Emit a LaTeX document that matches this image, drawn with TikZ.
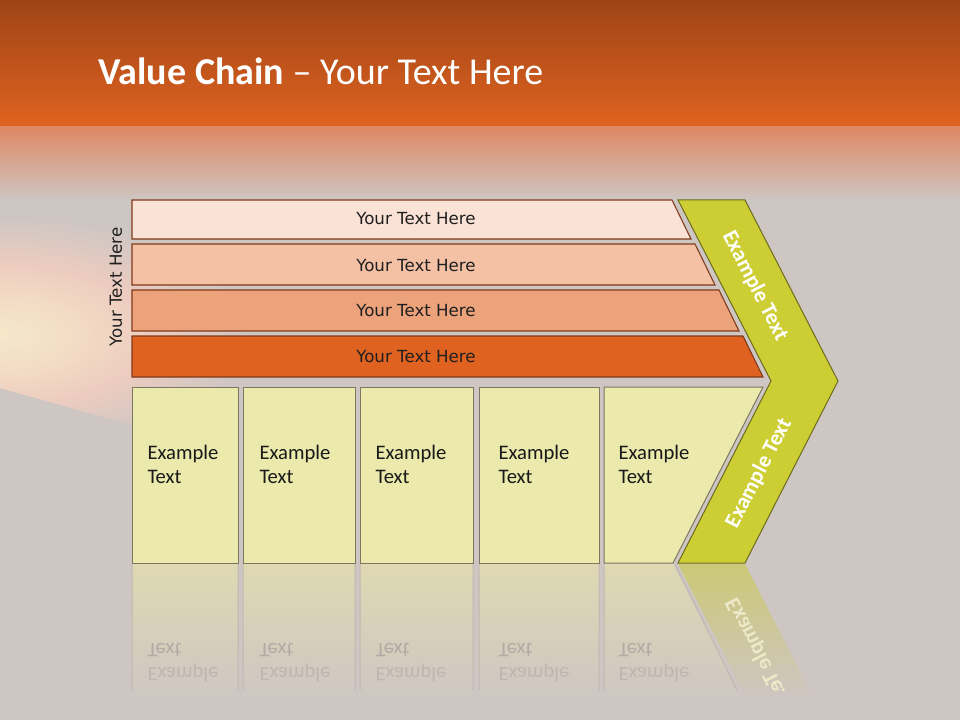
\documentclass[tikz,border=0pt]{standalone}
\usepackage{fontspec}
\usepackage{graphicx}
\setmainfont{Carlito}
\newfontfamily\barfont{DejaVu Sans}

\definecolor{bgGray}{RGB}{206,198,195}
\definecolor{topDark}{RGB}{158,68,22}
\definecolor{topOrange}{RGB}{224,99,32}
\definecolor{fadePeach}{RGB}{222,136,100}
\definecolor{barOne}{RGB}{251,226,214}
\definecolor{barTwo}{RGB}{244,193,165}
\definecolor{barThree}{RGB}{236,162,123}
\definecolor{barFour}{RGB}{224,98,32}
\definecolor{barLine}{RGB}{128,58,26}
\definecolor{boxFill}{RGB}{235,234,172}
\definecolor{boxLine}{RGB}{125,118,98}
\definecolor{chevFill}{RGB}{205,205,52}
\definecolor{chevLine}{RGB}{108,108,30}
\definecolor{reflBox}{RGB}{222,217,178}
\definecolor{reflChev}{RGB}{204,200,118}
\definecolor{reflLine}{RGB}{192,184,176}
\definecolor{reflTextA}{RGB}{178,170,164}
\definecolor{reflTextB}{RGB}{190,182,177}

\pgfdeclareradialshading{glowshade}{\pgfpoint{0bp}{0bp}}{rgb(0bp)=(0.96,0.91,0.79); rgb(8bp)=(0.95,0.86,0.77); rgb(15bp)=(0.93,0.80,0.75); rgb(25bp)=(0.808,0.776,0.765); rgb(50bp)=(0.808,0.776,0.765)}

\tikzset{every picture/.style={line width=0.75pt}}
\tikzset{
  barshape/.style={draw=barLine, line width=0.8pt},
  boxshape/.style={draw=boxLine, fill=boxFill, line width=0.75pt},
  chevshape/.style={draw=chevLine, fill=chevFill, line width=0.75pt},
  reflshape/.style={top color=reflBox, bottom color=bgGray},
  bartext/.style={font=\barfont\fontsize{12.5}{15}\selectfont, text=black!88},
  boxtext/.style={font=\fontsize{15.5}{18}\selectfont, align=left, anchor=north west, inner sep=0pt, text=black!90},
  chevtext/.style={font=\bfseries\fontsize{16.5}{20}\selectfont, text=white},
  refltext/.style={font=\fontsize{15.5}{18}\selectfont, anchor=base west, inner sep=0pt},
}

\begin{document}
\begin{tikzpicture}[x=0.75pt,y=0.75pt,yscale=-1,xscale=1]
\useasboundingbox (0,0) rectangle (960,720);

%Shape: Background
\fill[bgGray] (0,0) rectangle (960,720);
%Shape: Glow on the left
\begin{scope}
\clip (0,150) -- (420,150) -- (420,506) -- (0,388) -- cycle;
\shade[shading=glowshade] (0,335) ellipse (250 and 118);
\end{scope}
%Shape: Top band
\shade[top color=topDark, bottom color=topOrange] (0,0) rectangle (960,127);
\shade[top color=fadePeach, bottom color=bgGray] (0,127) rectangle (960,200);

%Shape: Bars
\draw[barshape, fill=barOne] (132,200) -- (672,200) -- (691,239) -- (132,239) -- cycle ;
\draw[barshape, fill=barTwo] (132,244) -- (695,244) -- (715,285) -- (132,285) -- cycle ;
\draw[barshape, fill=barThree] (132,290) -- (719,290) -- (739,331) -- (132,331) -- cycle ;
\draw[barshape, fill=barFour] (132,336) -- (743,336) -- (763,377) -- (132,377) -- cycle ;

%Shape: Boxes
\draw[boxshape] (132,387) rectangle (238,563) ;
\draw[boxshape] (243,387) rectangle (355,563) ;
\draw[boxshape] (360,387) rectangle (473,563) ;
\draw[boxshape] (479,387) rectangle (599,563) ;
\draw[boxshape] (604,387) -- (763,387) -- (673,563) -- (604,563) -- cycle ;

%Shape: Chevron
\draw[chevshape] (678,200) -- (745,200) -- (838,381) -- (745,563) -- (678,563) -- (771,381) -- cycle ;

%Shape: Reflection of the boxes
\shade[reflshape] (132,564) rectangle (238,700) ;
\shade[reflshape] (243,564) rectangle (355,700) ;
\shade[reflshape] (360,564) rectangle (473,700) ;
\shade[reflshape] (479,564) rectangle (599,700) ;
\shade[reflshape] (604,564) -- (673,564) -- (742.5,700) -- (604,700) -- cycle ;
\shade[top color=reflChev, bottom color=bgGray] (678,564) -- (745,564) -- (814.5,700) -- (747.5,700) -- cycle ;
\draw[reflLine] (132,564) -- (132,690) (238,564) -- (238,690) (243,564) -- (243,690) (355,564) -- (355,690)
  (360,564) -- (360,690) (473,564) -- (473,690) (479,564) -- (479,690) (599,564) -- (599,690)
  (604,564) -- (604,690) (675,564) -- (737,690) ;

% Text Node
\node[anchor=base west, inner sep=0pt, text=white, font=\fontsize{28.5}{34}\selectfont] (title) at (98,85) {\textbf{Value Chain} \textendash{} Your Text Here};
% Text Node
\node[bartext, rotate=90] (side) at (116,287) {Your Text Here};
% Text Node
\node[bartext] (barA) at (416,219) {Your Text Here};
\node[bartext] (barB) at (416,266) {Your Text Here};
\node[bartext] (barC) at (416,311) {Your Text Here};
\node[bartext] (barD) at (416,357) {Your Text Here};
% Text Node
\node[boxtext] (boxA) at (147,445) {Example\\Text};
\node[boxtext] (boxB) at (259,445) {Example\\Text};
\node[boxtext] (boxC) at (375,445) {Example\\Text};
\node[boxtext] (boxD) at (498,445) {Example\\Text};
\node[boxtext] (boxE) at (618,445) {Example\\Text};
% Text Node
\node[chevtext, rotate=-62.8] (chevA) at (755,286) {Example Text};
\node[chevtext, rotate=62.8] (chevB) at (759,473) {Example Text};

% Text Node: reflections
\node[refltext, text=reflTextA] (reflA1) at (147,643) {\scalebox{1}[-1]{Text}};
\node[refltext, text=reflTextB] (reflA2) at (147,667) {\scalebox{1}[-1]{Example}};
\node[refltext, text=reflTextA] (reflB1) at (259,643) {\scalebox{1}[-1]{Text}};
\node[refltext, text=reflTextB] (reflB2) at (259,667) {\scalebox{1}[-1]{Example}};
\node[refltext, text=reflTextA] (reflC1) at (375,643) {\scalebox{1}[-1]{Text}};
\node[refltext, text=reflTextB] (reflC2) at (375,667) {\scalebox{1}[-1]{Example}};
\node[refltext, text=reflTextA] (reflD1) at (498,643) {\scalebox{1}[-1]{Text}};
\node[refltext, text=reflTextB] (reflD2) at (498,667) {\scalebox{1}[-1]{Example}};
\node[refltext, text=reflTextA] (reflE1) at (618,643) {\scalebox{1}[-1]{Text}};
\node[refltext, text=reflTextB] (reflE2) at (618,667) {\scalebox{1}[-1]{Example}};
\begin{scope}
\clip (670,564) rectangle (840,690);
\node[chevtext, text=white!60!reflChev, rotate=-62.8] (reflChevB) at (759,653) {\scalebox{1}[-1]{Example Text}};
\end{scope}

\end{tikzpicture}
\end{document}
